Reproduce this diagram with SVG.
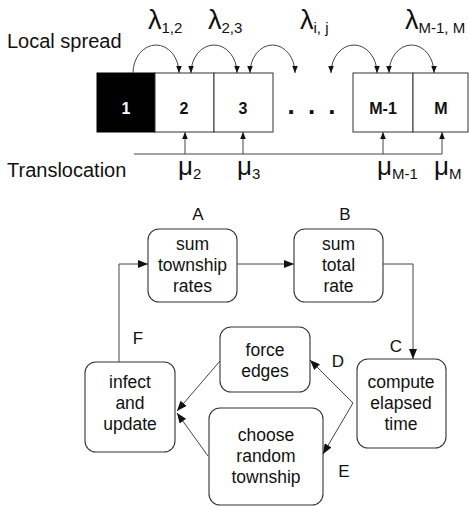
<svg xmlns="http://www.w3.org/2000/svg" width="469" height="506" viewBox="0 0 469 506">
<style>
text{font-family:"Liberation Sans",Arial,sans-serif;fill:#111}
.lbl{font-size:20px}
.cell{fill:#fff;stroke:#333;stroke-width:1}
.num{font-size:16px;font-weight:bold;text-anchor:middle}
.greek{font-size:27px}
.mu{font-size:26px}
.sub{font-size:15px}
.box{fill:#fff;stroke:#333;stroke-width:1.1}
.bt{font-size:17.5px;text-anchor:middle}
.let{font-size:17px;text-anchor:middle}
.ln{fill:none;stroke:#444;stroke-width:1}
</style>
<defs>
<marker id="sm" viewBox="0 0 10 8" refX="10" refY="4" markerWidth="7" markerHeight="6" orient="auto-start-reverse" markerUnits="userSpaceOnUse"><path d="M0,0 L10,4 L0,8 z" fill="#111"/></marker>
<marker id="ah" viewBox="0 0 10 8" refX="10" refY="4" markerWidth="12" markerHeight="8" orient="auto" markerUnits="userSpaceOnUse"><path d="M0,0 L10,4 L0,8 z" fill="#111"/></marker>
</defs>

<text class="lbl" x="7" y="48">Local spread</text>
<text class="lbl" x="7" y="177">Translocation</text>

<g id="cell1"><rect x="97" y="73" width="58" height="59" fill="#000" stroke="#000"/><text class="num" x="126" y="114" style="fill:#fff">1</text></g>
<g id="cell2"><rect class="cell" x="155" y="73" width="59" height="59"/><text class="num" x="184" y="114">2</text></g>
<g id="cell3"><rect class="cell" x="214" y="73" width="59" height="59"/><text class="num" x="243" y="114">3</text></g>
<g id="dots"><text x="313" y="114" style="font-size:26px;font-weight:bold;text-anchor:middle;letter-spacing:3px">. . .</text></g>
<g id="cellM1"><rect class="cell" x="353" y="73" width="60" height="59"/><text class="num" x="383" y="114">M-1</text></g>
<g id="cellM"><rect class="cell" x="413" y="73" width="55" height="59"/><text class="num" x="441" y="114">M</text></g>

<g id="rates">
<text class="greek" x="148" y="29">λ<tspan class="sub" dy="4">1,2</tspan></text>
<text class="greek" x="208" y="29">λ<tspan class="sub" dy="4">2,3</tspan></text>
<text class="greek" x="300" y="29">λ<tspan class="sub" dy="4">i, j</tspan></text>
<text class="greek" x="405" y="29">λ<tspan class="sub" dy="4">M-1, M</tspan></text>
<text class="mu" x="178" y="175">μ<tspan class="sub" dy="4">2</tspan></text>
<text class="mu" x="237" y="175">μ<tspan class="sub" dy="4">3</tspan></text>
<text class="mu" x="377" y="175">μ<tspan class="sub" dy="4">M-1</tspan></text>
<text class="mu" x="434" y="175">μ<tspan class="sub" dy="4">M</tspan></text>
</g>

<g id="connectors-top" class="ln">
<path class="ln" d="M133,73 A23,28 0 0 1 179,73" marker-end="url(#sm)"/>
<path class="ln" d="M191,73 A23,28 0 0 1 237,73" marker-start="url(#sm)" marker-end="url(#sm)"/>
<path class="ln" d="M250,73 A22.5,28 0 0 1 295,73" marker-start="url(#sm)" marker-end="url(#sm)"/>
<path class="ln" d="M331,73 A23,28 0 0 1 377,73" marker-start="url(#sm)" marker-end="url(#sm)"/>
<path class="ln" d="M389,73 A22.5,28 0 0 1 434,73" marker-start="url(#sm)" marker-end="url(#sm)"/>
<path class="ln" d="M134,154 H442"/>
<path class="ln" d="M185,154 V132" marker-end="url(#sm)"/>
<path class="ln" d="M243,154 V132" marker-end="url(#sm)"/>
<path class="ln" d="M383,154 V132" marker-end="url(#sm)"/>
<path class="ln" d="M442,154 V132" marker-end="url(#sm)"/>
</g>

<g id="A"><rect class="box" x="148" y="229" width="89" height="73" rx="11"/>
<text class="bt" x="192.5" y="250">sum</text><text class="bt" x="192.5" y="271">township</text><text class="bt" x="192.5" y="292">rates</text>
<text class="let" x="198" y="220">A</text></g>
<g id="B"><rect class="box" x="294" y="229" width="89" height="73" rx="11"/>
<text class="bt" x="338.5" y="250">sum</text><text class="bt" x="338.5" y="271">total</text><text class="bt" x="338.5" y="292">rate</text>
<text class="let" x="345" y="220">B</text></g>
<g id="C"><rect class="box" x="357" y="359" width="89" height="89" rx="11"/>
<text class="bt" x="401" y="388">compute</text><text class="bt" x="401" y="409">elapsed</text><text class="bt" x="401" y="430">time</text>
<text class="let" x="396" y="352">C</text></g>
<g id="D"><rect class="box" x="220" y="327" width="90" height="65" rx="11"/>
<text class="bt" x="265" y="356">force</text><text class="bt" x="265" y="377">edges</text>
<text class="let" x="338" y="367">D</text></g>
<g id="E"><rect class="box" x="209" y="408" width="114" height="97" rx="11"/>
<text class="bt" x="266" y="441">choose</text><text class="bt" x="266" y="462">random</text><text class="bt" x="266" y="483">township</text>
<text class="let" x="344" y="477">E</text></g>
<g id="F"><rect class="box" x="85" y="362" width="90" height="90" rx="11"/>
<text class="bt" x="130" y="388">infect</text><text class="bt" x="130" y="409">and</text><text class="bt" x="130" y="430">update</text>
<text class="let" x="138" y="344">F</text></g>

<g id="connectors">
<path class="ln" d="M237,264 H294" marker-end="url(#ah)"/>
<path class="ln" d="M383,264 H413 V359" marker-end="url(#ah)"/>
<path class="ln" d="M353,403 L310,360" marker-end="url(#ah)"/>
<path class="ln" d="M353,403 L323,454" marker-end="url(#ah)"/>
<path class="ln" d="M220,361 L177,411" marker-end="url(#ah)"/>
<path class="ln" d="M208,456 L177,413" marker-end="url(#ah)"/>
<path class="ln" d="M119,362 V264 H148" marker-end="url(#ah)"/>
</g>
</svg>
